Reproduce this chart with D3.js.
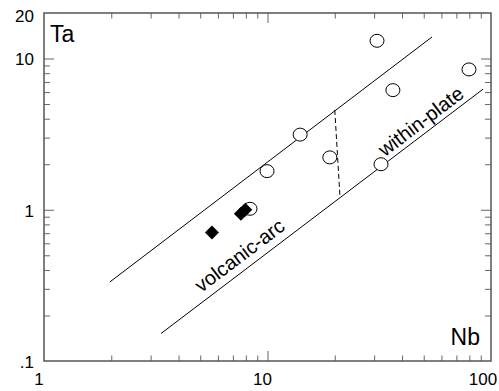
<!DOCTYPE html>
<html>
<head>
<meta charset="utf-8">
<script src="https://cdn.jsdelivr.net/npm/d3@7"></script>
<style>
  body { margin: 0; background: #fff; }
  text { font-family: "Liberation Sans", Arial, sans-serif; fill: #000; }
</style>
</head>
<body>
<script>
// samples (open circles and filled diamonds)
var circleNb = [30.9, 36.4, 79.7, 14.0, 19.0, 32.2, 9.95, 8.35]
var circleTa = [13.1, 6.18, 8.47, 3.14, 2.22, 2.0, 1.80, 1.015]
var diamondNb = [5.64, 7.6, 7.95]
var diamondTa = [0.707, 0.94, 1.0]

// field boundaries
var upperNb = [1.97, 54.5]
var upperTa = [0.333, 13.9]
var lowerNb = [3.34, 92.1]
var lowerTa = [0.152, 6.27]
var dashNb = [20.0, 21.1]
var dashTa = [4.57, 1.22]

// field names
var fieldNames = ["volcanic-arc", "within-plate"]
var fieldNb = [7.5, 48.5]
var fieldTa = [0.50, 3.85]

// ticks
var xTickValues = [1, 10, 100]
var xTickLabels = ["1", "10", "100"]
var yTickValues = [0.1, 1, 10, 20]
var yTickLabels = [".1", "1", "10", "20"]
var xMinor = [2, 3, 4, 5, 6, 7, 8, 9, 20, 30, 40, 50, 60, 70, 80, 90]
var yMinor = [0.2, 0.3, 0.4, 0.5, 0.6, 0.7, 0.8, 0.9, 2, 3, 4, 5, 6, 7, 8, 9]
var xMajor = [10]
var yMajor = [1, 10]

var w = 499, h = 391
var padLeft = 44, padRight = 491, padTop = 13, padBottom = 361

var svg = d3.select("body").append("svg")
    .attr("width", w).attr("height", h)

var x = d3.scaleLog().domain([1, 100]).range([padLeft, padRight])
var y = d3.scaleLog().domain([0.1, 20]).range([padBottom, padTop])

// tick marks on all four sides, pointing inwards
function ticks(axis, vals, len, tx, ty) {
  var g = svg.append("g")
      .attr("transform", "translate(" + tx + "," + ty + ")")
      .attr("color", "#666")
      .call(axis.tickValues(vals).tickSize(-len).tickFormat(""))
  g.select(".domain").remove()
}
ticks(d3.axisBottom(x), xMinor, 5.5, 0, padBottom)
ticks(d3.axisBottom(x), xMajor, 10, 0, padBottom)
ticks(d3.axisTop(x), xMinor, 5.5, 0, padTop)
ticks(d3.axisTop(x), xMajor, 10, 0, padTop)
ticks(d3.axisLeft(y), yMinor, 6, padLeft, 0)
ticks(d3.axisLeft(y), yMajor, 10, padLeft, 0)
ticks(d3.axisRight(y), yMinor, 6, padRight, 0)
ticks(d3.axisRight(y), yMajor, 10, padRight, 0)

// frame
svg.append("rect")
    .attr("x", padLeft).attr("y", padTop)
    .attr("width", padRight - padLeft).attr("height", padBottom - padTop)
    .style("fill", "none").style("stroke", "#555").style("stroke-width", 1.5)

// tick labels
svg.selectAll(".xl").data(xTickValues).enter().append("text")
    .attr("x", function(d) { return Math.min(x(d) - 5, 483) })
    .attr("y", 385)
    .attr("text-anchor", "middle")
    .style("font-size", "17px")
    .text(function(d, i) { return xTickLabels[i] })

svg.selectAll(".yl").data(yTickValues).enter().append("text")
    .attr("x", 34)
    .attr("y", function(d) { return Math.max(y(d) + 1, 16) })
    .attr("dy", "0.35em")
    .attr("text-anchor", "end")
    .style("font-size", "17px")
    .text(function(d, i) { return yTickLabels[i] })

// axis names
svg.append("text").attr("x", 50).attr("y", 42)
    .style("font-size", "23px").text("Ta")
svg.append("text").attr("x", 480).attr("y", 345)
    .attr("text-anchor", "end")
    .style("font-size", "23px").text("Nb")

// boundary lines
var line = d3.line()
    .x(function(d) { return x(d[0]) })
    .y(function(d) { return y(d[1]) })

function boundary(nb, ta, dash) {
  svg.append("path")
      .datum(d3.zip(nb, ta))
      .attr("d", line)
      .style("fill", "none").style("stroke", "#000").style("stroke-width", 1)
      .style("stroke-dasharray", dash)
}
boundary(upperNb, upperTa, null)
boundary(lowerNb, lowerTa, null)
boundary(dashNb, dashTa, "5,3")

// field names, rotated along the boundaries
var ang = Math.atan2(y(lowerTa[1]) - y(lowerTa[0]), x(lowerNb[1]) - x(lowerNb[0])) * 180 / Math.PI
svg.selectAll(".field").data(fieldNames).enter().append("text")
    .attr("transform", function(d, i) {
      return "translate(" + x(fieldNb[i]) + "," + y(fieldTa[i]) + ") rotate(" + ang + ")"
    })
    .attr("dy", "0.35em")
    .attr("text-anchor", "middle")
    .style("font-size", "20px")
    .text(function(d) { return d })

// open circles
svg.selectAll(".c").data(d3.zip(circleNb, circleTa)).enter().append("ellipse")
    .attr("cx", function(d) { return x(d[0]) })
    .attr("cy", function(d) { return y(d[1]) })
    .attr("rx", 7).attr("ry", 6.5)
    .style("fill", "#fff").style("stroke", "#000").style("stroke-width", 1)

// filled diamonds
svg.selectAll(".d").data(d3.zip(diamondNb, diamondTa)).enter().append("path")
    .attr("d", d3.symbol(d3.symbolSquare, 98))
    .attr("transform", function(d) {
      return "translate(" + x(d[0]) + "," + y(d[1]) + ") rotate(45)"
    })
    .style("fill", "#000")
</script>
</body>
</html>
